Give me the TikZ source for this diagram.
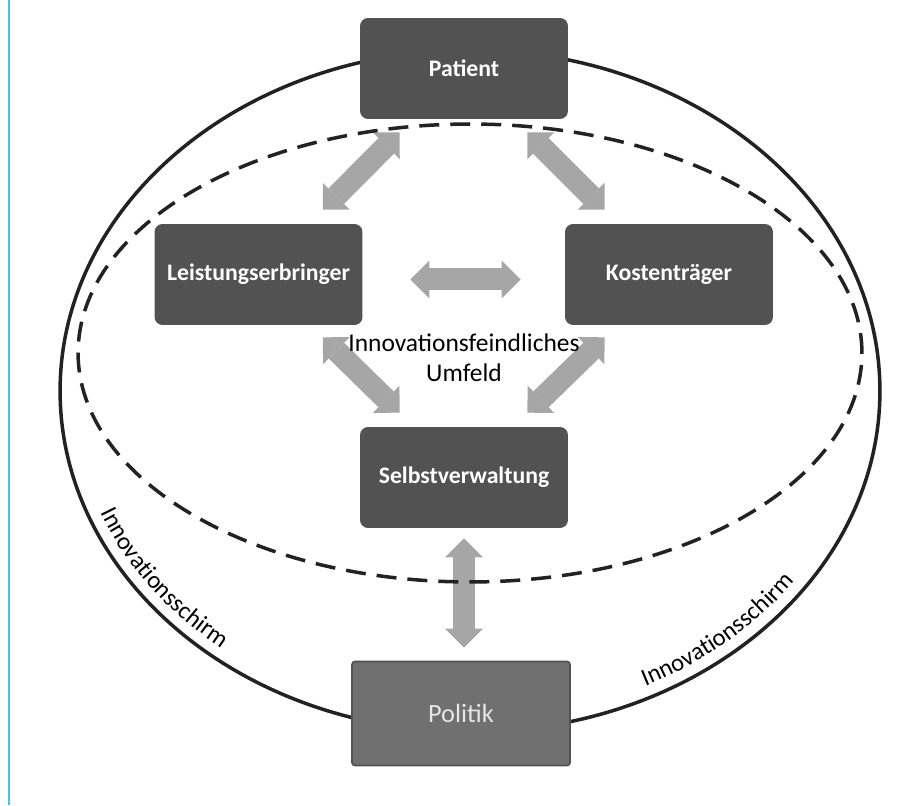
\documentclass[tikz,border=0pt]{standalone}
\usepackage{fontspec}
\setmainfont{Carlito}
\usetikzlibrary{arrows.meta, backgrounds, calc, decorations.text}

\definecolor{boxgray}{RGB}{82,82,82}
\definecolor{polgray}{RGB}{112,112,112}
\definecolor{arrowgray}{RGB}{166,166,166}
\definecolor{linegray}{RGB}{34,34,34}
\definecolor{edgeblue}{RGB}{64,196,240}

\begin{document}
\begin{tikzpicture}[x=0.02cm, y=0.02cm,
  box/.style={rectangle, rounded corners=0.16cm, fill=boxgray, text=white,
    font=\fontsize{13.5}{16}\selectfont\bfseries, minimum width=4.16cm, minimum height=2.02cm},
  fatarrow/.style={draw=arrowgray, line width=0.44cm,
    >={Triangle[width=0.76cm, length=0.38cm, line width=0pt]}, <->},
  schirm/.style={decorate, decoration={text along path, text align=center,
    text={|\fontsize{14}{16}\selectfont|Innovationsschirm}}}]
  \useasboundingbox (0,0) rectangle (911,805);

  \node[box] (patient) at (464,736.5) {Patient};
  \node[box] (leist) at (258.5,530.5) {Leistungserbringer};
  \node[box] (kosten) at (669,530.5) {Kostenträger};
  \node[box] (selbst) at (464,327.5) {Selbstverwaltung};
  \node[box, fill=polgray, draw=boxgray, line width=1pt, rounded corners=0.06cm,
    minimum width=4.36cm, minimum height=2.08cm, text=white!90!black,
    font=\fontsize{15}{17}\selectfont] (politik) at (461,91.5) {Politik};
  \node[align=center, font=\fontsize{14.5}{17}\selectfont] (umfeld) at (464,447)
    {Innovationsfeindliches\\Umfeld};

  \begin{pgfonlayer}{background}
    \draw[edgeblue, line width=0.04cm] (9,0) -- (9,805);
    % Pfeile zwischen den Akteuren
    \draw[fatarrow] ([shift={(40,-13)}]patient.south west) -- ([shift={(-40,14)}]leist.north east);
    \draw[fatarrow] ([shift={(-41,-13)}]patient.south east) -- ([shift={(40,14)}]kosten.north west);
    \draw[fatarrow] ([shift={(-40,-12)}]leist.south east) -- ([shift={(40,14)}]selbst.north west);
    \draw[fatarrow] ([shift={(40,-12)}]kosten.south west) -- ([shift={(-41,14)}]selbst.north east);
    \draw[fatarrow, shorten <=0.95cm, shorten >=0.88cm] ([yshift=-0.1cm]leist.east) -- ([yshift=-0.1cm]kosten.west);
    \draw[fatarrow, shorten <=0.2cm, shorten >=0.26cm] (selbst.south) -- (selbst.south |- politik.north);
    % Schirm und Umfeld
    \draw[linegray, line width=0.07cm] (470,414) ellipse [x radius=8.2cm, y radius=6.82cm];
    \draw[linegray, line width=0.07cm, dash pattern=on 0.4cm off 0.22cm]
      (470,452) ellipse [x radius=7.84cm, y radius=4.58cm];
  \end{pgfonlayer}

  \path[schirm] ([shift={(191:7.96cm and 6.58cm)}]470,414)
    arc[start angle=191, end angle=241, x radius=7.96cm, y radius=6.58cm];
  \path[schirm] ([shift={(286:7.96cm and 6.58cm)}]470,414)
    arc[start angle=286, end angle=336, x radius=7.96cm, y radius=6.58cm];
\end{tikzpicture}
\end{document}
